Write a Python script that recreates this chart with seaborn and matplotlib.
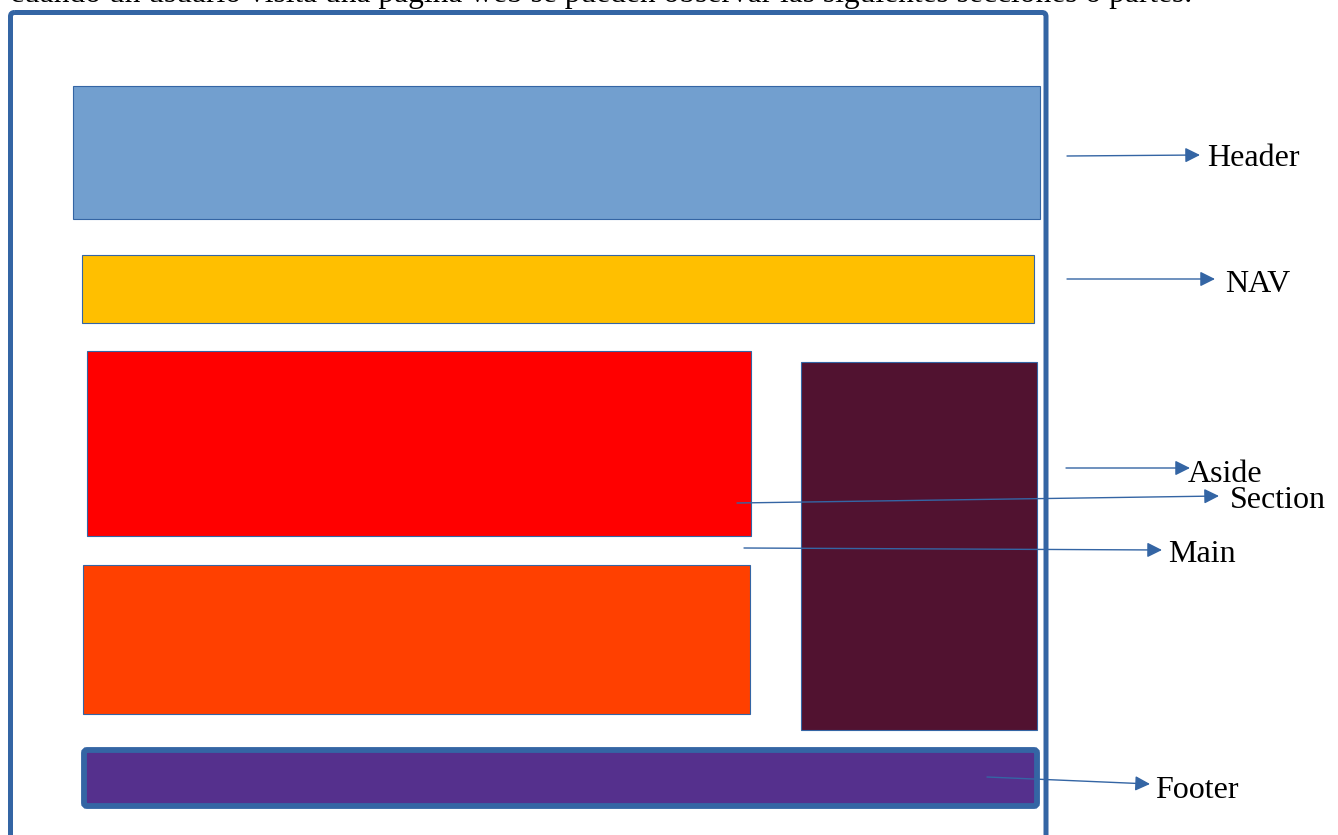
import matplotlib
matplotlib.use("Agg")
import matplotlib.pyplot as plt
from matplotlib.patches import FancyBboxPatch
import seaborn as sns

# ---- data (layout of the web page sections, in pixel units) ----
sections = ["Header", "NAV", "Section", "Main", "Aside", "Footer"]
box_colors = ["#729fcf", "#ffbf00", "#ff0000", "#ff4000", "#511230", "#55308d"]
box_left = [73, 82, 87, 83, 801, 84]
box_top = [86, 255, 351, 565, 362, 750]
box_width = [967, 952, 664, 667, 236, 953]
box_height = [133, 68, 185, 149, 368, 56]

arrow_start_x = [1067, 1067, 737, 744, 1066, 987]
arrow_start_y = [156, 279, 503, 548, 468, 777]
arrow_end_x = [1200, 1215, 1219, 1162, 1190, 1150]
arrow_end_y = [155, 279, 496, 550, 468, 784]
label_x = [1207, 1225, 1230, 1168, 1188, 1155]
label_y = [159, 284, 501, 555, 474, 791]

intro_text = ("cuando un usuario visita una página web se pueden observar "
              "las siguientes secciones o partes.")

BLUE = "#3465a4"

sns.set_theme(style="white")
plt.rcParams["font.family"] = ["Liberation Serif", "DejaVu Serif"]

fig = plt.figure(figsize=(13.38, 8.35), dpi=100)
ax = fig.add_axes([0, 0, 1, 1])
ax.set_xlim(0, 1338)
ax.set_ylim(835, 0)
ax.axis("off")

# outer page frame
frame = FancyBboxPatch((10.5, 12.5), 1035.5, 860, boxstyle="round,pad=0,rounding_size=4",
                       fill=False, edgecolor=BLUE, linewidth=3.6, zorder=5)
ax.add_patch(frame)

# section boxes
for name, c, l, t, w, h in zip(sections, box_colors, box_left, box_top, box_width, box_height):
    if name == "Footer":
        p = FancyBboxPatch((l, t), w, h, boxstyle="round,pad=0,rounding_size=3",
                           facecolor=c, edgecolor=BLUE, linewidth=4.2, zorder=2)
        ax.add_patch(p)
    else:
        ax.bar(l, h, width=w, bottom=t, align="edge", color=c,
               edgecolor=BLUE, linewidth=0.8, zorder=2)

# arrows and labels
for name, sx, sy, ex, ey, lx, ly in zip(sections, arrow_start_x, arrow_start_y,
                                         arrow_end_x, arrow_end_y, label_x, label_y):
    ax.annotate("", xy=(ex, ey), xytext=(sx, sy),
                arrowprops=dict(arrowstyle="-|>,head_length=0.6,head_width=0.3",
                                mutation_scale=15, color=BLUE, lw=1.0,
                                shrinkA=0, shrinkB=0), zorder=6)
    ax.text(lx, ly, name, fontsize=23, color="black", ha="left", va="center", zorder=7)

# clipped intro sentence at the top (partly cut off, as in the original)
ax.text(10, 2, intro_text, fontsize=22.7, color="black", ha="left", va="baseline",
        zorder=7, clip_on=False)

fig.savefig("out.png", dpi=100)
